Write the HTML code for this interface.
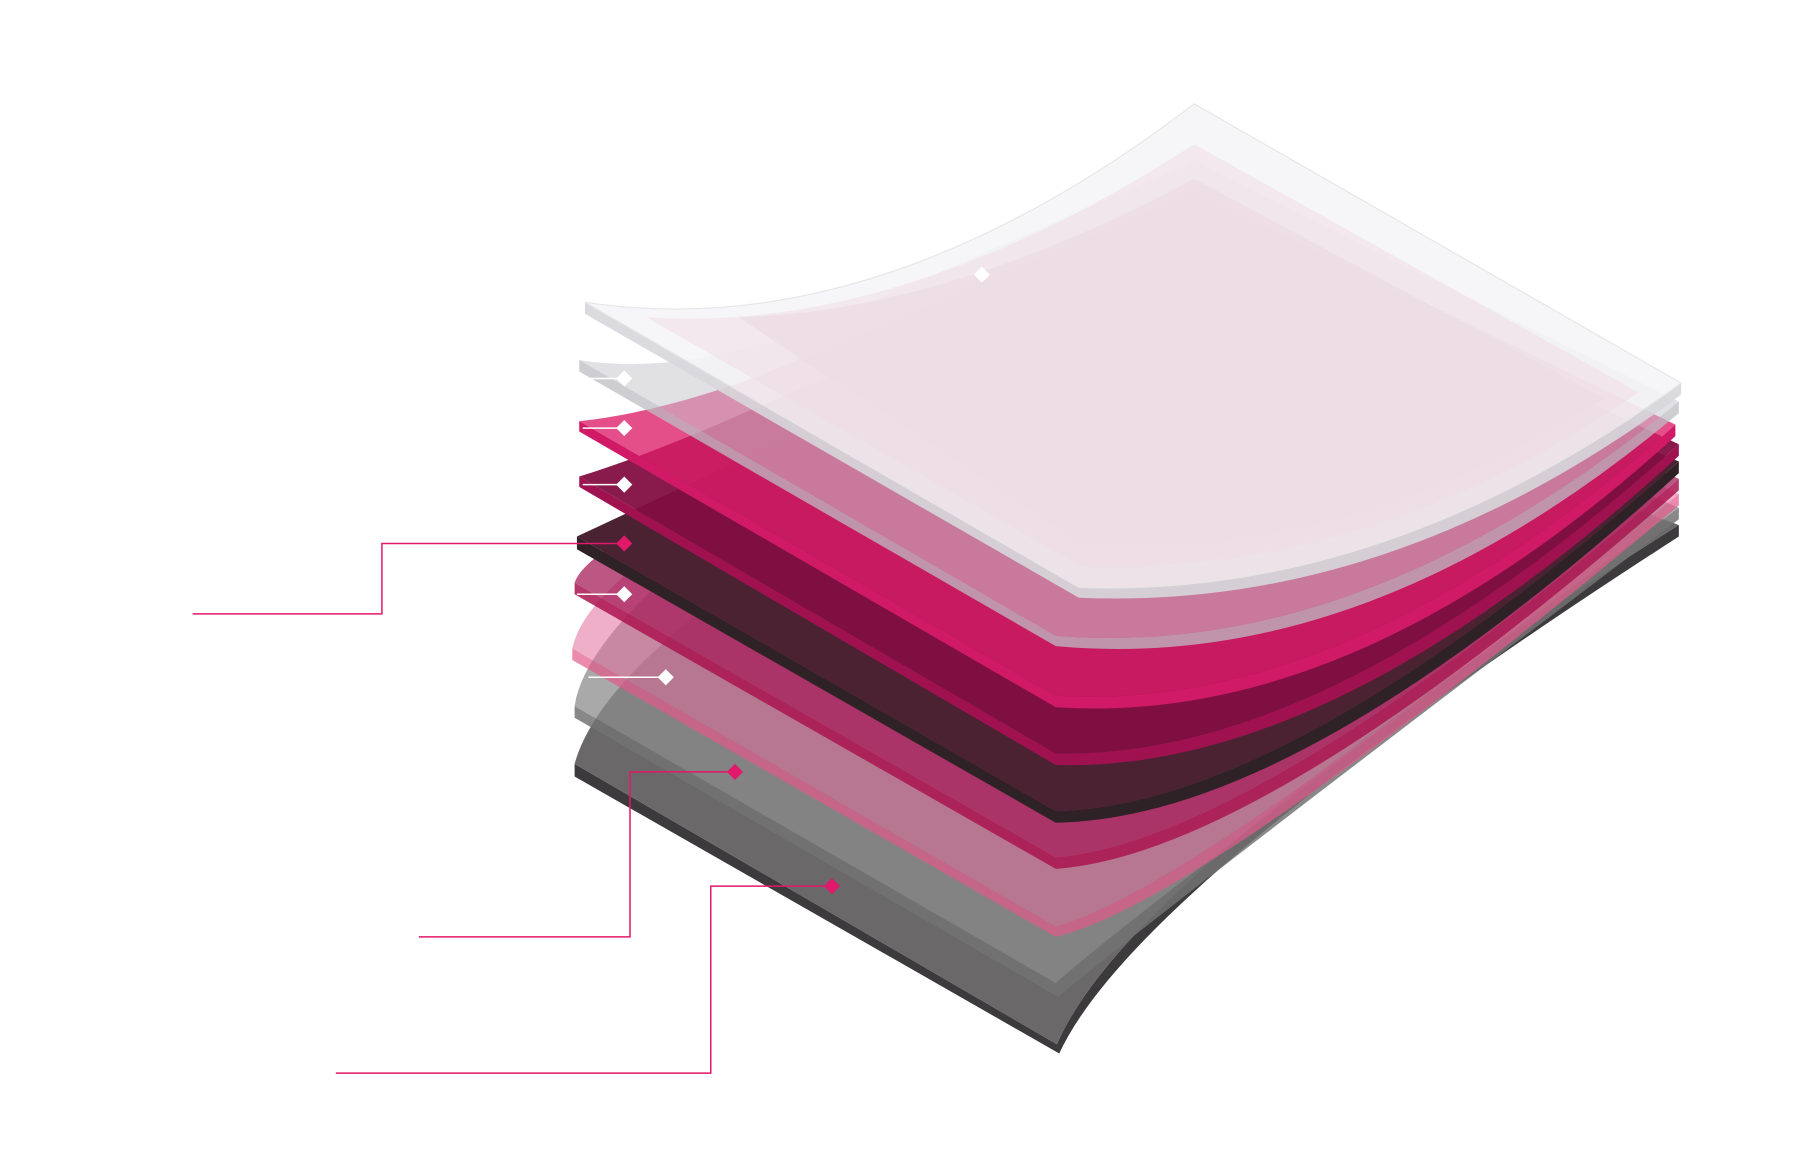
<!DOCTYPE html>
<html><head><meta charset="utf-8"><style>
html,body{margin:0;padding:0;background:#fff;}
svg{display:block;}
</style></head><body>
<svg width="1800" height="1170" viewBox="0 0 1560 1014" xmlns="http://www.w3.org/2000/svg">
<rect width="1560" height="1014" fill="#fff"/>
<!-- layer 9 dark grey -->
<path d="M498,662 L916,905 Q980,755 1455,455 L1455,465 Q985,768 918,913 L498,673 Z" fill="#3c3a3c"/>
<path d="M498,662 Q515,600 620,520 L1035,300 L1455,455 Q980,755 916,905 Z" fill="#6a6868"/>
<!-- layer 8 light grey -->
<path d="M498,612 L915,852 Q1000,777 1455,440 L1455,450 Q1005,790 917,864 L498,622 Z" fill="rgba(115,115,115,0.85)"/>
<path d="M498,612 Q505,560 600,480 L1035,260 L1455,440 Q1000,777 915,852 Z" fill="rgba(140,140,140,0.75)"/>
<!-- layer 7 light pink -->
<path d="M496,562 L915,803 Q1040,768 1455,428 L1455,438 Q1045,780 915,812 L496,572 Z" fill="rgba(225,90,140,0.7)"/>
<path d="M496,562 Q505,520 580,470 L1035,240 L1455,428 Q1040,768 915,803 Z" fill="rgba(225,110,155,0.55)"/>
<!-- layer 6 pink -->
<path d="M498,505 L915,743 Q1090,728 1455,415 L1455,425 Q1095,740 915,753 L498,515 Z" fill="rgba(170,20,80,0.85)"/>
<path d="M498,505 Q505,485 560,455 L1035,225 L1455,415 Q1090,728 915,743 Z" fill="rgba(165,30,90,0.75)"/>
<!-- layer 5 dark -->
<path d="M500,465 L915,703 Q1120,698 1455,400 L1455,410 Q1125,710 915,713 L500,476 Z" fill="#2e2226"/>
<path d="M500,465 L1035,215 L1455,400 Q1120,698 915,703 Z" fill="#4a2232"/>
<!-- layer 4 magenta -->
<path d="M502,413 L915,653 Q1150,658 1455,385 L1455,395 Q1155,670 915,663 L502,422 Z" fill="#a0124f"/>
<path d="M502,413 Q560,395 640,360 L1035,190 L1455,385 Q1150,658 915,653 Z" fill="rgba(130,15,65,0.95)"/>
<!-- layer 3 pink -->
<path d="M502,365 L915,603 Q1170,618 1452,368 L1452,378 Q1175,630 915,613 L502,374 Z" fill="#d01a65"/>
<path d="M502,365 Q570,358 660,325 L1035,165 L1452,368 Q1170,618 915,603 Z" fill="rgba(220,30,105,0.78)"/>
<!-- layer 2 grey -->
<path d="M502,312 L915,551 Q1180,573 1455,348 L1455,358 Q1185,585 915,560 L502,322 Z" fill="rgba(190,190,195,0.75)"/>
<path d="M502,312 Q580,325 690,290 L1035,140 L1455,348 Q1180,573 915,551 Z" fill="rgba(200,200,205,0.55)"/>
<!-- layer 1 top clear -->
<path d="M507,262 L935,509 Q1200,519 1457,332 L1457,342 Q1205,530 935,518 L507,272 Z" fill="rgba(215,215,220,0.9)"/>
<path d="M507,262 Q760,300 1035,90 L1457,332 Q1200,519 935,509 Z" fill="rgba(245,245,247,0.85)" stroke="#e6e6e6" stroke-width="1"/>
<path d="M560,275 Q780,290 1035,125 L1420,340 Q1190,500 935,490 Z" fill="rgba(238,220,228,0.55)"/>
<path d="M640,275 Q820,270 1035,155 L1390,345 Q1180,485 940,475 Z" fill="rgba(236,220,228,0.7)"/>
<!-- connectors pink -->
<g fill="none" stroke="#e2186a" stroke-width="1.3">
<polyline points="167,532 331,532 331,471 541,471"/>
<polyline points="363,812 546,812 546,669 637,669"/>
<polyline points="291,930 616,930 616,768 721,768"/>
</g>
<g fill="#e2186a">
<path d="M541,464 L548,471 L541,478 L534,471 Z"/>
<path d="M637,662 L644,669 L637,676 L630,669 Z"/>
<path d="M721,761 L728,768 L721,775 L714,768 Z"/>
</g>
<!-- white markers -->
<g stroke="#fff" stroke-width="1.3">
<line x1="505" y1="328" x2="541" y2="328"/>
<line x1="505" y1="371" x2="541" y2="371"/>
<line x1="505" y1="420" x2="541" y2="420"/>
<line x1="500" y1="515" x2="541" y2="515"/>
<line x1="510" y1="587" x2="577" y2="587"/>
</g>
<g fill="#fff">
<path d="M541,321 L548,328 L541,335 L534,328 Z"/>
<path d="M541,364 L548,371 L541,378 L534,371 Z"/>
<path d="M541,413 L548,420 L541,427 L534,420 Z"/>
<path d="M541,508 L548,515 L541,522 L534,515 Z"/>
<path d="M577,580 L584,587 L577,594 L570,587 Z"/>
<path d="M851,231 L858,238 L851,245 L844,238 Z"/>
</g>
</svg>
</body></html>
